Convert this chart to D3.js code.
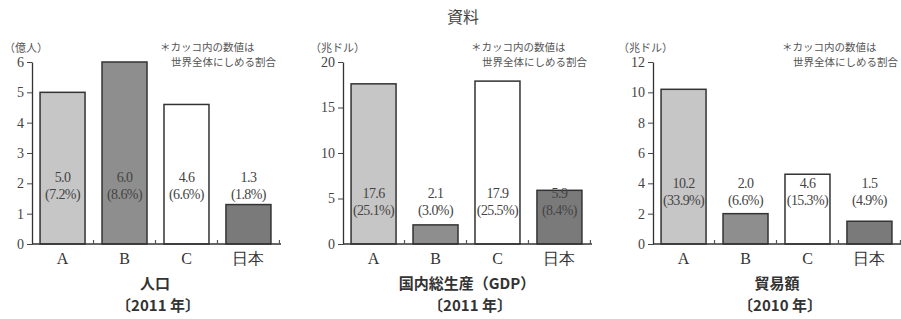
<!DOCTYPE html>
<html><head><meta charset="utf-8">
<script src="https://cdn.jsdelivr.net/npm/d3@7"></script>
<style>body{margin:0;background:#fff}</style>
</head><body>
<svg id="c" width="901" height="319"></svg>
<script>
const categories = ["A", "B", "C", "日本"];
const popValues = [5.0, 6.0, 4.6, 1.3];
const popShares = ["7.2%", "8.6%", "6.6%", "1.8%"];
const gdpValues = [17.6, 2.1, 17.9, 5.9];
const gdpShares = ["25.1%", "3.0%", "25.5%", "8.4%"];
const tradeValues = [10.2, 2.0, 4.6, 1.5];
const tradeShares = ["33.9%", "6.6%", "15.3%", "4.9%"];
const popTicks = [0, 1, 2, 3, 4, 5, 6];
const gdpTicks = [0, 5, 10, 15, 20];
const tradeTicks = [0, 2, 4, 6, 8, 10, 12];
const mainTitle = "資料";
const noteLines = ["＊カッコ内の数値は", "世界全体にしめる割合"];
const fills = ["#c6c6c6", "#8e8e8e", "#ffffff", "#7a7a7a"];

const panels = [
  {values: popValues, shares: popShares, ticks: popTicks, max: 6, unit: "（億人）", title: "人口", year: "〔2011 年〕", x0: 32, unitX: 4, noteX: 160, labelAt: 2.2, titleX: 155},
  {values: gdpValues, shares: gdpShares, ticks: gdpTicks, max: 20, unit: "（兆ドル）", title: "国内総生産（GDP）", year: "〔2011 年〕", x0: 343, unitX: 310, noteX: 471, labelAt: 5.6, titleX: 467},
  {values: tradeValues, shares: tradeShares, ticks: tradeTicks, max: 12, unit: "（兆ドル）", title: "貿易額", year: "〔2010 年〕", x0: 653, unitX: 618, noteX: 782, labelAt: 4.0, titleX: 777}
];

const svg = d3.select("#c");
const serif = "'Liberation Serif','DejaVu Serif',serif";
const sans = "'Noto Sans CJK JP','Noto Sans',sans-serif";

svg.append("text").attr("x", 463).attr("y", 23).attr("text-anchor", "middle")
  .attr("font-family", sans).attr("font-size", 16).attr("fill", "#444").text(mainTitle);

panels.forEach(p => {
  const g = svg.append("g");
  const y = d3.scaleLinear().domain([0, p.max]).range([244, 62]);
  const x = d3.scaleBand().domain(categories).range([p.x0, p.x0 + 247]).paddingInner(0.274).paddingOuter(0.13);

  // y axis
  const ax = g.append("g").attr("transform", `translate(${p.x0},0)`)
    .call(d3.axisLeft(y).tickValues(p.ticks).tickFormat(d3.format("d")).tickSize(5).tickPadding(3).tickSizeOuter(0));
  ax.select(".domain").attr("stroke", "#333").attr("stroke-width", 1.3);
  ax.selectAll(".tick line").attr("stroke", "#444");
  ax.selectAll(".tick text").attr("font-family", serif).attr("font-size", 14).attr("fill", "#444");

  // bars
  g.selectAll("rect.bar").data(p.values).join("rect")
    .attr("x", (d, i) => x(categories[i]))
    .attr("y", d => y(d))
    .attr("width", x.bandwidth())
    .attr("height", d => y(0) - y(d))
    .attr("fill", (d, i) => fills[i])
    .attr("stroke", "#333").attr("stroke-width", 1.5);

  // baseline
  g.append("line").attr("x1", p.x0).attr("x2", p.x0 + 249).attr("y1", y(0)).attr("y2", y(0))
    .attr("stroke", "#333").attr("stroke-width", 1.5);
  // small marks between bars
  categories.forEach((c, i) => {
    const mx = x(c) + x.bandwidth() + x.step() * 0.137;
    g.append("line").attr("x1", mx).attr("x2", mx).attr("y1", y(0)).attr("y2", y(0) - 4)
      .attr("stroke", "#555").attr("stroke-width", 1.2);
  });

  // category labels
  g.selectAll("text.cat").data(categories).join("text")
    .attr("x", d => x(d) + x.bandwidth() / 2).attr("y", 264)
    .attr("text-anchor", "middle").attr("font-family", serif).attr("font-size", 16).attr("fill", "#333")
    .text(d => d);

  // value labels
  p.values.forEach((v, i) => {
    const cx = x(categories[i]) + x.bandwidth() / 2;
    const ly = y(p.labelAt);
    g.append("text").attr("x", cx).attr("y", ly + 5).attr("text-anchor", "middle")
      .attr("font-family", serif).attr("font-size", 14).attr("fill", "#444").attr("letter-spacing", -0.6)
      .text(v.toFixed(1));
    g.append("text").attr("x", cx).attr("y", ly + 22).attr("text-anchor", "middle")
      .attr("font-family", serif).attr("font-size", 14).attr("fill", "#444").attr("letter-spacing", -0.6)
      .text("(" + p.shares[i] + ")");
  });

  // unit
  g.append("text").attr("x", p.unitX).attr("y", 52).attr("font-family", sans).attr("font-size", 11)
    .attr("fill", "#555").text(p.unit);
  // note
  g.append("text").attr("x", p.noteX).attr("y", 51).attr("font-family", sans).attr("font-size", 10.5)
    .attr("fill", "#555").text(noteLines[0]);
  g.append("text").attr("x", p.noteX + 11).attr("y", 66).attr("font-family", sans).attr("font-size", 10.5)
    .attr("fill", "#555").text(noteLines[1]);

  // titles
  g.append("text").attr("x", p.titleX).attr("y", 289).attr("text-anchor", "middle")
    .attr("font-family", sans).attr("font-weight", "bold").attr("font-size", 15).attr("fill", "#333").text(p.title);
  g.append("text").attr("x", p.titleX + 3).attr("y", 311).attr("text-anchor", "middle")
    .attr("font-family", sans).attr("font-weight", "bold").attr("font-size", 15).attr("fill", "#333").text(p.year);
});
</script>
</body></html>
